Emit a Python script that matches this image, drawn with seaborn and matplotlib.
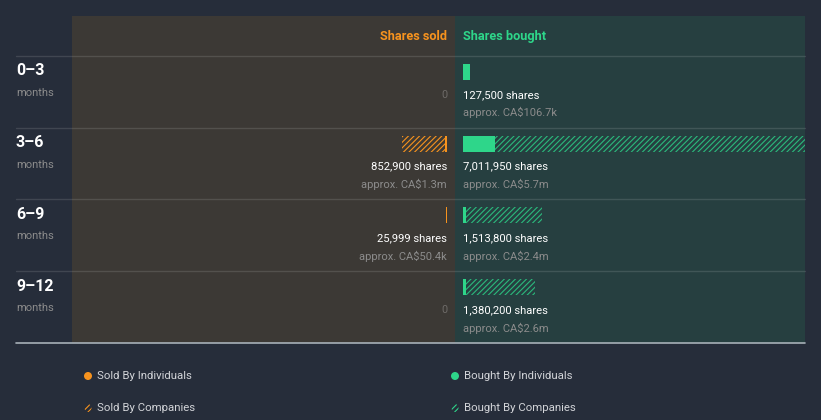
import matplotlib
matplotlib.use("Agg")
import matplotlib.pyplot as plt
import matplotlib.transforms as mtransforms
from matplotlib.lines import Line2D
from matplotlib.patches import Ellipse
import seaborn as sns
import pandas as pd

# ---------------- data ----------------
periods = ["0–3", "3–6", "6–9", "9–12"]
sold_individuals = [0, 38000, 25999, 0]
sold_companies = [0, 814900, 0, 0]
bought_individuals = [127500, 615000, 55000, 55000]
bought_companies = [0, 6396950, 1458800, 1325200]
sold_share_labels = ["0", "852,900 shares", "25,999 shares", "0"]
sold_value_labels = ["", "approx. CA$1.3m", "approx. CA$50.4k", ""]
bought_share_labels = ["127,500 shares", "7,011,950 shares", "1,513,800 shares", "1,380,200 shares"]
bought_value_labels = ["approx. CA$106.7k", "approx. CA$5.7m", "approx. CA$2.4m", "approx. CA$2.6m"]
legend_labels = ["Sold By Individuals", "Bought By Individuals", "Sold By Companies", "Bought By Companies"]

# ---------------- style ----------------
BG = "#262d3a"
SOLD_BG = "#3c3935"
BOUGHT_BG = "#263f40"
ORANGE = "#f7931e"
GREEN = "#2ed68a"
WHITE = "#ffffff"
GREY = "#8c8c8c"

sns.set_theme(style="white")
plt.rcParams["font.family"] = ["Roboto", "DejaVu Sans"]
plt.rcParams["hatch.linewidth"] = 0.8

W, H = 821, 420
fig = plt.figure(figsize=(W / 100, H / 100), dpi=100, facecolor=BG)

def fx(px):
    return px / W

def fy(py):
    return 1 - py / H

top_px, bot_px = 16, 343
ax_s = fig.add_axes([fx(72), fy(bot_px), (455 - 72) / W, (bot_px - top_px) / H])
ax_b = fig.add_axes([fx(455), fy(bot_px), (805 - 455) / W, (bot_px - top_px) / H])

df = pd.DataFrame({
    "period": periods,
    "sold_ind": sold_individuals,
    "sold_tot": [a + b for a, b in zip(sold_individuals, sold_companies)],
    "bought_ind": bought_individuals,
    "bought_tot": [a + b for a, b in zip(bought_individuals, bought_companies)],
})

per_px = 19160.0
bar_h = 16 / 72

def draw_bars(ax, tot_col, ind_col, color, hatch_color, bg):
    n0 = len(ax.patches)
    sns.barplot(data=df, y="period", x=tot_col, order=periods, orient="h", ax=ax,
                color=bg, width=bar_h, errorbar=None)
    for p in ax.patches[n0:]:
        p.set_facecolor("none")
        p.set_edgecolor(hatch_color)
        p.set_hatch("//////")
        p.set_linewidth(0)
    n1 = len(ax.patches)
    sns.barplot(data=df, y="period", x=ind_col, order=periods, orient="h", ax=ax,
                color=color, width=bar_h, errorbar=None, saturation=1)
    for p in ax.patches[n1:]:
        p.set_facecolor(color)
        p.set_edgecolor("none")
        p.set_linewidth(0)

draw_bars(ax_s, "sold_tot", "sold_ind", ORANGE, ORANGE, SOLD_BG)
draw_bars(ax_b, "bought_tot", "bought_ind", GREEN, "#2bb97c", BOUGHT_BG)

ax_s.set_facecolor(SOLD_BG)
ax_b.set_facecolor(BOUGHT_BG)
ax_s.set_xlim(375 * per_px, -8 * per_px)
ax_b.set_xlim(-8 * per_px, 342 * per_px)
for ax in (ax_s, ax_b):
    ax.set_ylim(4 - 16 / 72, -56 / 72)
    ax.set_xlabel("")
    ax.set_ylabel("")
    ax.set_xticks([])
    ax.set_yticks([])
    for s in ax.spines.values():
        s.set_visible(False)

# text in each row
for i in range(len(periods)):
    y_sh = i + 23 / 72
    y_ap = i + 41 / 72
    if sold_share_labels[i] == "0":
        ax_s.text(0, y_sh, "0", ha="right", va="center", color="#6e6b68", fontsize=7.8)
    else:
        ax_s.text(0, y_sh, sold_share_labels[i], ha="right", va="center", color=WHITE, fontsize=8.1)
        ax_s.text(0, y_ap, sold_value_labels[i], ha="right", va="center", color=GREY, fontsize=8.0)
    ax_b.text(0, y_sh, bought_share_labels[i], ha="left", va="center", color=WHITE, fontsize=8.1)
    ax_b.text(0, y_ap, bought_value_labels[i], ha="left", va="center", color=GREY, fontsize=8.0)

# headers
hdr_y = -35 / 72
ax_s.text(0, hdr_y, "Shares sold", ha="right", va="center", color=ORANGE, fontsize=9.2, fontweight="bold")
ax_b.text(0, hdr_y, "Shares bought", ha="left", va="center", color=GREEN, fontsize=9.2, fontweight="bold")

# row labels and separators
blend = mtransforms.blended_transform_factory(fig.transFigure, ax_s.transData)
for i, p in enumerate(periods):
    fig.text(fx(16), 0, p, transform=blend, ha="left", va="center", color=WHITE,
             fontsize=11.5, fontweight="bold").set_y(i - 1 / 72)
    fig.text(fx(16), 0, "months", transform=blend, ha="left", va="center", color=GREY,
             fontsize=8).set_y(i + 21 / 72)
    yl = i - 16 / 72
    fig.add_artist(Line2D([fx(16), fx(805)], [yl, yl], transform=blend,
                          color=WHITE, alpha=0.12, linewidth=1))
yb = 4 - 16 / 72
fig.add_artist(Line2D([fx(16), fx(805)], [yb, yb], transform=blend,
                      color="#a7b0b8", linewidth=1.2))

# legend
leg_pos = [(88, 376), (455, 376), (88, 408), (455, 408)]
leg_col = [ORANGE, GREEN, ORANGE, GREEN]
leg_hatch = [False, False, True, True]
for (px, py), lab, c, h in zip(leg_pos, legend_labels, leg_col, leg_hatch):
    if h:
        e = Ellipse((fx(px), fy(py)), 7 / W, 8 / H, transform=fig.transFigure,
                    facecolor="none", edgecolor=c, hatch="//////", linewidth=0)
    else:
        e = Ellipse((fx(px), fy(py)), 8 / W, 8 / H, transform=fig.transFigure,
                    facecolor=c, edgecolor="none")
    fig.add_artist(e)
    fig.text(fx(px + 9), fy(py), lab, ha="left", va="center", color="#d2d4d8", fontsize=8.2)

fig.savefig("out.png", dpi=100, facecolor=BG)
